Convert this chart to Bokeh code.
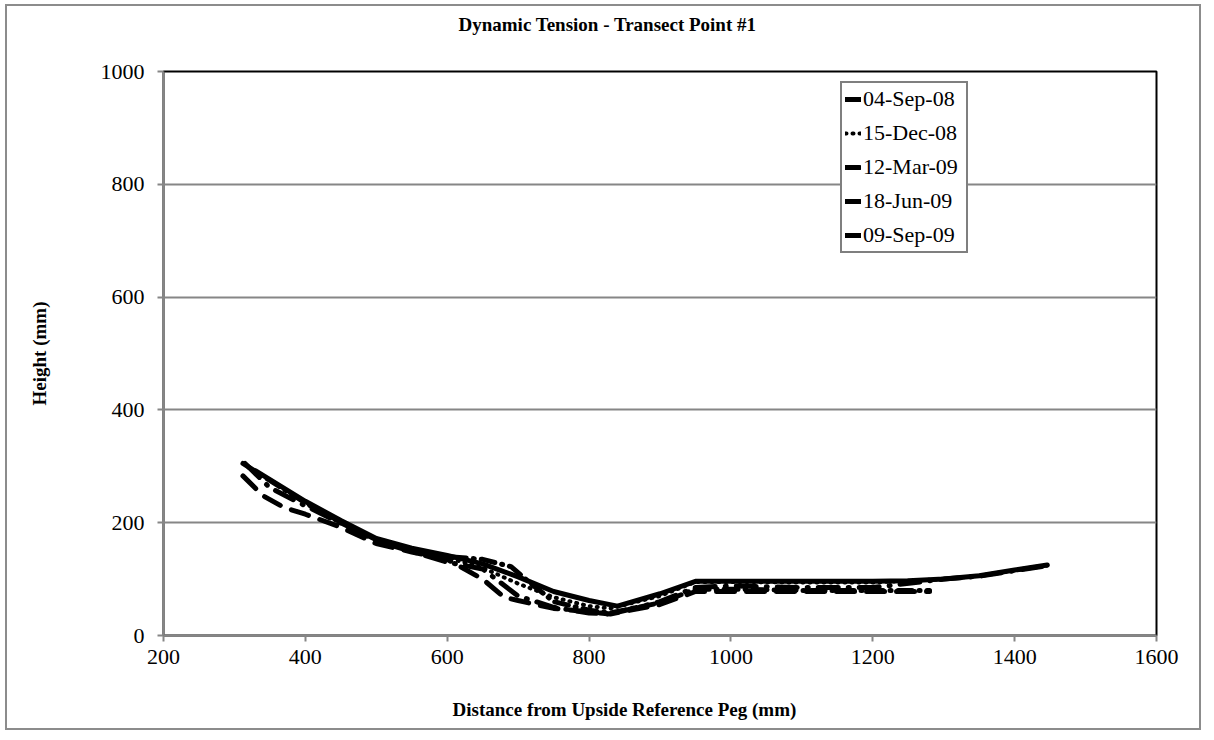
from bokeh.plotting import figure
from bokeh.embed import file_html
from bokeh.resources import INLINE
from bokeh.models import Legend, LegendItem, FixedTicker, Range1d, Title

# ---- data (mm) ----
x_sep08 = [330, 400, 450, 500, 550, 600, 650, 700, 750, 800, 840, 900, 950, 1000, 1100, 1200, 1250, 1300, 1350, 1400, 1446]
y_sep08 = [292, 238, 204, 172, 155, 142, 127, 104, 78, 62, 52, 74, 96, 96, 96, 96, 97, 100, 106, 116, 125]

x_dec08 = [320, 400, 450, 500, 550, 600, 650, 700, 750, 800, 830, 900, 950, 1000, 1100, 1200, 1300, 1350, 1400, 1446]
y_dec08 = [298, 236, 200, 170, 152, 138, 120, 92, 68, 52, 48, 70, 95, 95, 94, 94, 100, 106, 115, 124]

x_mar09 = [312, 400, 450, 500, 550, 600, 650, 690, 720, 750, 800, 830, 900, 950, 1000, 1100, 1200, 1280]
y_mar09 = [305, 235, 200, 170, 150, 140, 135, 122, 90, 60, 45, 40, 58, 82, 82, 80, 80, 80]

x_jun09 = [312, 340, 370, 400, 450, 500, 550, 600, 650, 680, 700, 750, 800, 830, 900, 950, 1000, 1100, 1200, 1280]
y_jun09 = [283, 248, 227, 215, 192, 163, 148, 135, 100, 68, 62, 48, 42, 38, 55, 78, 78, 78, 78, 78]

x_sep09 = [315, 350, 400, 500, 600, 650, 700, 750, 800, 830, 900, 950, 1000, 1100, 1200, 1300, 1350, 1400, 1446]
y_sep09 = [305, 262, 230, 168, 130, 118, 70, 50, 40, 38, 60, 85, 88, 85, 85, 100, 105, 115, 124]

labels = ["04-Sep-08", "15-Dec-08", "12-Mar-09", "18-Jun-09", "09-Sep-09"]
x_ticks = [200, 400, 600, 800, 1000, 1200, 1400, 1600]
y_ticks = [0, 200, 400, 600, 800, 1000]

SERIF = "Liberation Serif"
GRAY = "#868686"

p = figure(width=1196, height=726, output_backend="svg", toolbar_location=None,
           x_range=Range1d(200, 1600), y_range=Range1d(0, 1000),
           min_border_left=156, min_border_right=47, min_border_top=65, min_border_bottom=97,
           styles={"border": "2px solid #8c8c8c", "margin-left": "5px", "margin-top": "4px"})

# top: spacer next to the frame, then the chart title (outermost)
p.add_layout(Title(text=" ", text_font_size="31px", standoff=0), "above")
p.add_layout(Title(text="Dynamic Tension - Transect Point #1", align="left", offset=295,
                   text_font=SERIF, text_font_size="19px", text_font_style="bold",
                   text_color="black", standoff=0), "above")

# bottom: spacer below the axis, then the x-axis title
p.add_layout(Title(text=" ", text_font_size="25px", standoff=0), "below")
p.add_layout(Title(text="Distance from Upside Reference Peg (mm)", align="left", offset=289,
                   text_font=SERIF, text_font_size="19px", text_font_style="bold",
                   text_color="black", standoff=0), "below")

p.outline_line_color = "black"
p.outline_line_width = 2
p.background_fill_color = "white"

for ax in (p.xaxis[0], p.yaxis[0]):
    ax.axis_line_color = GRAY
    ax.axis_line_width = 2
    ax.major_tick_line_color = GRAY
    ax.major_tick_line_width = 2
    ax.major_tick_out = 6
    ax.major_tick_in = 0
    ax.minor_tick_line_color = None
    ax.major_label_text_font = SERIF
    ax.major_label_text_font_size = "22px"
    ax.major_label_text_color = "black"
    ax.axis_label_text_font = SERIF
    ax.axis_label_text_font_size = "19px"
    ax.axis_label_text_font_style = "bold"
    ax.axis_label_text_color = "black"

p.xaxis.ticker = FixedTicker(ticks=x_ticks)
p.yaxis.ticker = FixedTicker(ticks=y_ticks)
p.yaxis.axis_label = "Height (mm)"
p.xaxis.major_label_standoff = 8
p.yaxis.major_label_standoff = 13
p.yaxis.axis_label_standoff = 48

p.xgrid.grid_line_color = None
p.ygrid.grid_line_color = GRAY
p.ygrid.grid_line_width = 2

W = 5
r1 = p.line(x_sep08, y_sep08, line_color="black", line_width=W, line_cap="round", line_join="round")
r2 = p.line(x_dec08, y_dec08, line_color="black", line_width=4, line_dash="1 6", line_cap="round")
r3 = p.line(x_mar09, y_mar09, line_color="black", line_width=W, line_dash="14 7 1 7", line_cap="round")
r4 = p.line(x_jun09, y_jun09, line_color="black", line_width=W, line_dash="18 12", line_cap="round")
r5 = p.line(x_sep09, y_sep09, line_color="black", line_width=W, line_dash="20 10 1 10", line_cap="round")

legend = Legend(items=[LegendItem(label=l, renderers=[r]) for l, r in zip(labels, [r1, r2, r3, r4, r5])],
                location=(677, 382))
legend.label_text_font = SERIF
legend.label_text_font_size = "22px"
legend.label_text_color = "black"
legend.glyph_width = 16
legend.glyph_height = 22
legend.label_standoff = 2
legend.label_height = 22
legend.label_width = 100
legend.spacing = 8
legend.padding = 3
legend.margin = 0
legend.border_line_color = "black"
legend.border_line_width = 2
legend.background_fill_alpha = 1
p.add_layout(legend, "center")

open("out.html", "w").write(file_html(p, INLINE))
